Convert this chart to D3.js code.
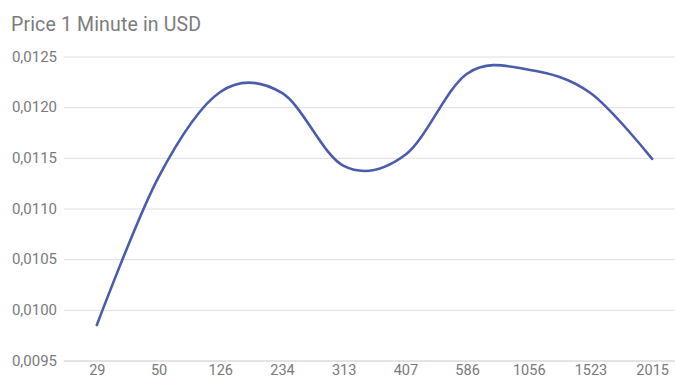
<!DOCTYPE html>
<html>
<head>
<meta charset="utf-8">
<script src="https://cdn.jsdelivr.net/npm/d3@7"></script>
<style>
  html, body { margin: 0; padding: 0; background: #fff; }
  svg { display: block; font-family: Roboto, "Noto Sans", sans-serif; }
</style>
</head>
<body>
<svg id="chart" width="675" height="380"></svg>
<script>
// Minutes purchased (category labels along the x axis)
const minutes = ["29", "50", "126", "234", "313", "407", "586", "1056", "1523", "2015"];
// Price of one minute in USD for each package
const pricePerMinute = [0.00985, 0.01131, 0.01215, 0.01214, 0.01142, 0.01153, 0.01233, 0.01237, 0.01214, 0.01149];
// Value axis ticks
const yTicks = [0.0095, 0.0100, 0.0105, 0.0110, 0.0115, 0.0120, 0.0125];

const title = "Price 1 Minute in USD";

const svg = d3.select("#chart");
const W = 675, H = 380;
const plot = { left: 64, right: 683, top: 56.5, bottom: 360.5 };

const x = d3.scalePoint()
  .domain(minutes)
  .range([plot.left + 2, plot.right])
  .padding(0.5);

const y = d3.scaleLinear()
  .domain([0.0095, 0.0125])
  .range([plot.bottom, plot.top]);

const fmt = v => d3.format(".4f")(v).replace(".", ",");

// Title
svg.append("text")
  .attr("x", 11)
  .attr("y", 31)
  .attr("fill", "#7c7c7c")
  .attr("font-size", 19.5)
  .attr("letter-spacing", 0.15)
  .text(title);

// Horizontal gridlines and value labels
const yAxis = d3.axisLeft(y)
  .tickValues(yTicks)
  .tickFormat(fmt)
  .tickSize(-(W - plot.left))
  .tickPadding(7);

const gy = svg.append("g")
  .attr("transform", `translate(${plot.left},0)`)
  .call(yAxis);
gy.select(".domain").remove();
gy.selectAll(".tick line")
  .attr("stroke", d => d === 0.0095 ? "#c8c8c8" : "#dedede")
  .attr("stroke-width", 1);
gy.selectAll(".tick text")
  .attr("fill", "#7a7a7a")
  .attr("font-size", 15)
  .attr("font-family", "Roboto, sans-serif");

// Category labels
const xAxis = d3.axisBottom(x).tickSize(0).tickPadding(4);
const gx = svg.append("g")
  .attr("transform", `translate(0,${plot.bottom})`)
  .call(xAxis);
gx.select(".domain").remove();
gx.selectAll(".tick text")
  .attr("fill", "#7a7a7a")
  .attr("font-size", 14.5)
  .attr("font-family", "Roboto, sans-serif");

// Smoothed price line
const line = d3.line()
  .x((d, i) => x(minutes[i]))
  .y(d => y(d))
  .curve(d3.curveCardinal.tension(0));

svg.append("path")
  .datum(pricePerMinute)
  .attr("fill", "none")
  .attr("stroke", "#4a5cab")
  .attr("stroke-width", 2.6)
  .attr("stroke-linejoin", "round")
  .attr("stroke-linecap", "round")
  .attr("d", line);
</script>
</body>
</html>
